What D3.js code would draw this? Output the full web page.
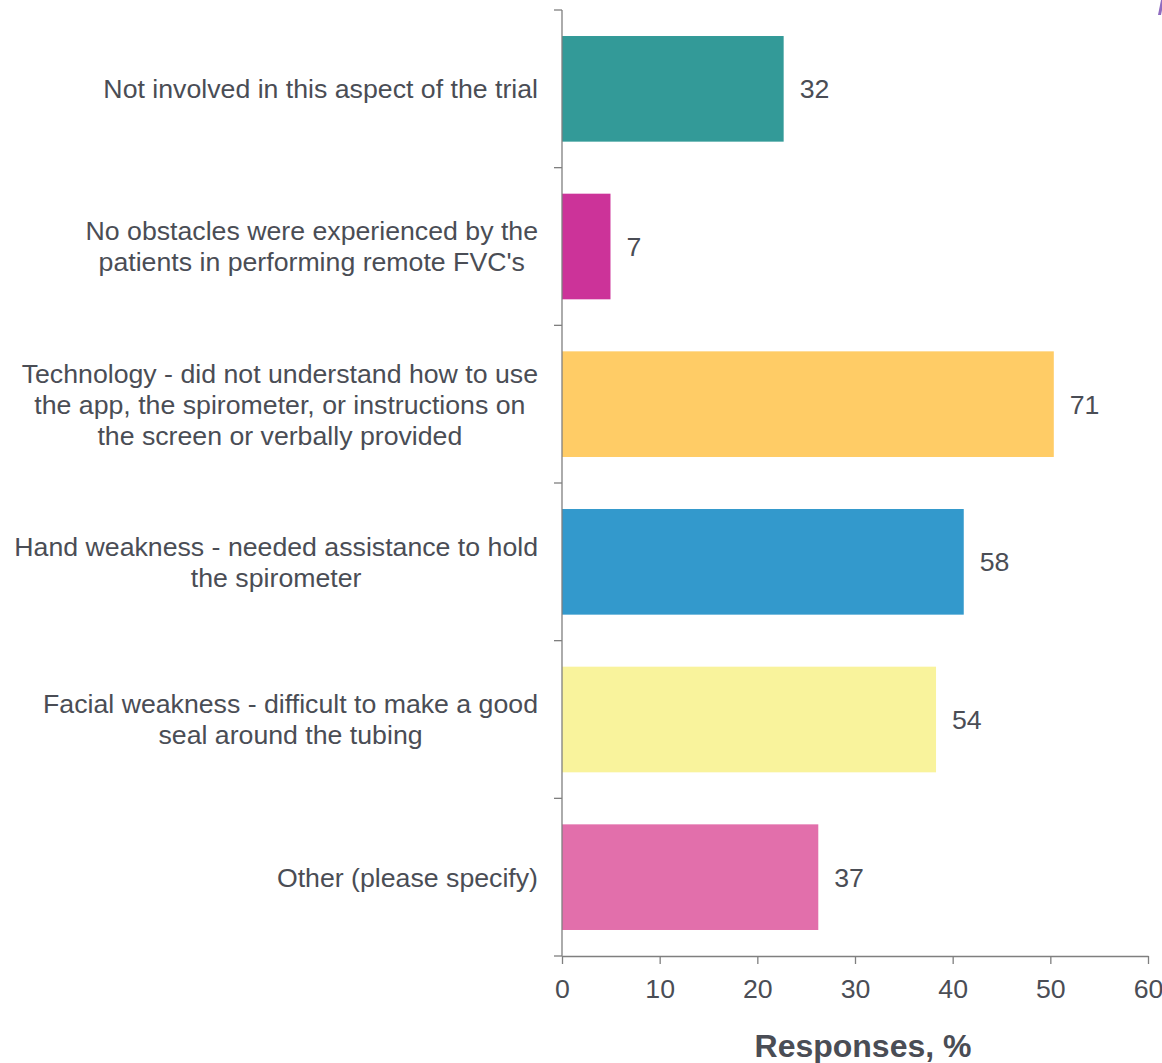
<!DOCTYPE html>
<html>
<head>
<meta charset="utf-8">
<script src="https://cdn.jsdelivr.net/npm/d3@7"></script>
<style>
  html, body { margin: 0; padding: 0; background: #fff; }
  svg { display: block; }
  text { font-family: "Liberation Sans", Arial, sans-serif; fill: #4a4d55; }
</style>
</head>
<body>
<svg id="chart" width="1162" height="1063"></svg>
<script>
// Survey answers: reported obstacles to remote FVC testing
const categories = [
  "Not involved in this aspect of the trial",
  "No obstacles were experienced by the patients in performing remote FVC's",
  "Technology - did not understand how to use the app, the spirometer, or instructions on the screen or verbally provided",
  "Hand weakness - needed assistance to hold the spirometer",
  "Facial weakness - difficult to make a good seal around the tubing",
  "Other (please specify)"
];
// Wrapped label lines for each category
const labelLines = [
  ["Not involved in this aspect of the trial"],
  ["No obstacles were experienced by the", "patients in performing remote FVC's"],
  ["Technology - did not understand how to use", "the app, the spirometer, or instructions on", "the screen or verbally provided"],
  ["Hand weakness - needed assistance to hold", "the spirometer"],
  ["Facial weakness - difficult to make a good", "seal around the tubing"],
  ["Other (please specify)"]
];
// Number of respondents choosing each answer
const counts = [32, 7, 71, 58, 54, 37];
// Total respondents; bar length is the share in percent
const totalRespondents = 141;
const barColors = ["#339a98", "#cc3399", "#ffcc66", "#3399cc", "#f9f39c", "#e26fab"];
const xTicks = [0, 10, 20, 30, 40, 50, 60];
const xTitle = "Responses, %";

const svg = d3.select("#chart");
const plotLeft = 562, plotRight = 1148, plotTop = 10, plotBottom = 956;
const fontSize = 26.7;

const x = d3.scaleLinear().domain([0, 60]).range([plotLeft, plotRight]);
const y = d3.scaleBand().domain(categories).range([plotTop, plotBottom])
  .paddingInner(0.33).paddingOuter(0.165);

const pct = counts.map(c => c / totalRespondents * 100);

// Bars
svg.append("g").selectAll("rect")
  .data(categories)
  .join("rect")
  .attr("x", x(0))
  .attr("y", d => y(d))
  .attr("width", (d, i) => x(pct[i]) - x(0))
  .attr("height", y.bandwidth())
  .attr("fill", (d, i) => barColors[i]);

// Value labels
svg.append("g").selectAll("text")
  .data(categories)
  .join("text")
  .attr("x", (d, i) => x(pct[i]) + 16)
  .attr("y", d => y(d) + y.bandwidth() / 2)
  .attr("dy", "0.35em")
  .attr("font-size", fontSize)
  .text((d, i) => counts[i]);

// X axis
const xAxis = svg.append("g")
  .attr("transform", `translate(0,${plotBottom})`)
  .call(d3.axisBottom(x).tickValues(xTicks).tickSize(8).tickPadding(15).tickSizeOuter(0));
xAxis.select(".domain").attr("stroke", "#7f7f7f").attr("stroke-width", 1.3);
xAxis.selectAll(".tick line").attr("stroke", "#7f7f7f").attr("stroke-width", 1.3);
xAxis.selectAll(".tick text")
  .attr("font-size", fontSize)
  .attr("font-family", "Liberation Sans, Arial, sans-serif")
  .attr("fill", "#4a4d55");

// Y axis line with ticks at the band boundaries
const step = y.step();
const boundaries = d3.range(categories.length + 1).map(i => plotTop + i * step);
const yAxis = svg.append("g");
yAxis.append("line")
  .attr("x1", plotLeft).attr("x2", plotLeft)
  .attr("y1", plotTop).attr("y2", plotBottom)
  .attr("stroke", "#7f7f7f").attr("stroke-width", 1.3);
yAxis.selectAll("line.tick")
  .data(boundaries)
  .join("line")
  .attr("class", "tick")
  .attr("x1", plotLeft - 8).attr("x2", plotLeft)
  .attr("y1", d => d).attr("y2", d => d)
  .attr("stroke", "#7f7f7f").attr("stroke-width", 1.3);

// Category labels: each block is centred lines whose widest line ends near the axis
const lineHeight = 31;
const labelRight = 538;
svg.append("g").attr("class", "cat-labels").selectAll("text")
  .data(categories)
  .join("text")
  .attr("text-anchor", "middle")
  .attr("font-size", fontSize)
  .each(function(d, i) {
    const lines = labelLines[i];
    const cy = y(d) + y.bandwidth() / 2;
    const t = d3.select(this);
    lines.forEach((ln, j) => {
      t.append("tspan")
        .attr("y", cy + (j - (lines.length - 1) / 2) * lineHeight)
        .attr("dy", "0.35em")
        .text(ln);
    });
    const spans = t.selectAll("tspan").nodes();
    const w = d3.max(spans, n => n.getComputedTextLength());
    spans.forEach(n => d3.select(n).attr("x", labelRight - w / 2));
  });

// Axis title
svg.append("text")
  .attr("x", (plotLeft + plotRight) / 2 + 8)
  .attr("y", 1057)
  .attr("text-anchor", "middle")
  .attr("font-size", 32)
  .attr("font-weight", "bold")
  .text(xTitle);

// Corner accent
svg.append("path")
  .attr("d", "M1158,15 L1161,0 L1164,0 L1161,15 Z")
  .attr("fill", "#8f6cc0");
</script>
</body>
</html>
